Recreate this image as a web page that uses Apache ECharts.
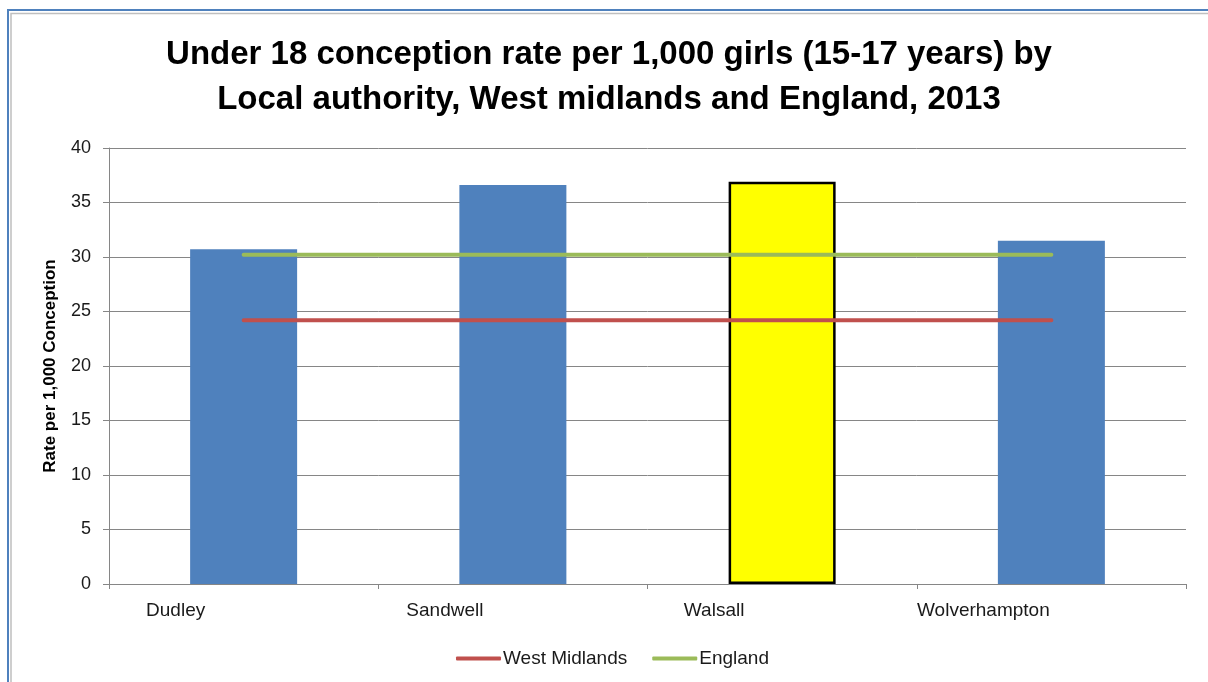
<!DOCTYPE html>
<html>
<head>
<meta charset="utf-8">
<style>
  html, body { margin: 0; padding: 0; background: #fff; }
  #chart { width: 1208px; height: 682px; }
</style>
<script src="https://cdn.jsdelivr.net/npm/echarts@6/dist/echarts.min.js"></script>
</head>
<body>
<div id="chart"></div>
<script>
// data
var categories = ['Dudley', 'Sandwell', 'Walsall', 'Wolverhampton'];
var rates = [30.7, 36.6, 36.9, 31.5];
var highlight = [false, false, true, false];   // Walsall drawn in yellow
var westMidlands = [24.2, 24.2, 24.2, 24.2];
var england = [30.2, 30.2, 30.2, 30.2];
var yTicks = { min: 0, max: 40, interval: 5 };

var chart = echarts.init(document.getElementById('chart'));
var font = 'Liberation Sans, Arial, sans-serif';

var barData = rates.map(function (v, i) {
	if (!highlight[i]) return v;
	return {
		value: v,
		itemStyle: { color: '#FFFF00', borderColor: '#000', borderWidth: 2.5 }
	};
});

var option = {
	animation: false,
	backgroundColor: '#fff',
	title: {
		text: 'Under 18 conception rate per 1,000 girls (15-17 years) by\nLocal authority, West midlands and England, 2013',
		left: 609,
		textAlign: 'center',
		top: 32,
		padding: 0,
		textStyle: {
			fontFamily: font,
			fontSize: 33,
			fontWeight: 'bold',
			color: '#000',
			lineHeight: 45
		}
	},
	legend: {
		data: ['West Midlands', 'England'],
		left: 451,
		top: 644,
		icon: 'roundRect',
		itemWidth: 45,
		itemHeight: 4,
		itemGap: 25,
		textStyle: { fontFamily: font, fontSize: 19, color: '#1a1a1a', padding: [0, 0, 0, -3] }
	},
	grid: { left: 109, right: 22, top: 148, bottom: 98 },
	xAxis: {
		type: 'category',
		data: categories,
		axisLine: { lineStyle: { color: '#868686', width: 1 } },
		axisTick: { show: true, length: 5, lineStyle: { color: '#868686' } },
		axisLabel: {
			fontFamily: font, fontSize: 19, color: '#1a1a1a',
			margin: 17, padding: [0, 136, 0, 0]
		}
	},
	yAxis: {
		type: 'value',
		min: yTicks.min,
		max: yTicks.max,
		interval: yTicks.interval,
		name: 'Rate per 1,000 Conception',
		nameLocation: 'middle',
		nameGap: 50,
		nameTextStyle: { fontFamily: font, fontSize: 17, fontWeight: 'bold', color: '#000' },
		axisLine: { show: true, lineStyle: { color: '#868686', width: 1 } },
		axisTick: { show: true, length: 6, lineStyle: { color: '#868686' } },
		axisLabel: { fontFamily: font, fontSize: 18, color: '#1a1a1a', margin: 18 },
		splitLine: { lineStyle: { color: '#868686', width: 1 } }
	},
	series: [
		{
			name: 'Rate',
			type: 'bar',
			data: barData,
			barWidth: 107,
			itemStyle: { color: '#4F81BD' },
			z: 2
		},
		{
			name: 'West Midlands',
			type: 'line',
			data: westMidlands,
			showSymbol: false,
			symbol: 'none',
			lineStyle: { color: '#C0504D', width: 4, cap: 'round' },
			itemStyle: { color: '#C0504D' },
			z: 3
		},
		{
			name: 'England',
			type: 'line',
			data: england,
			showSymbol: false,
			symbol: 'none',
			lineStyle: { color: '#9BBB59', width: 4, cap: 'round' },
			itemStyle: { color: '#9BBB59' },
			z: 3
		}
	],
	graphic: [
		{ // outer blue frame, runs off the right and bottom edges
			type: 'rect', silent: true, z: 10,
			shape: { x: 8, y: 10, width: 1260, height: 740 },
			style: { fill: null, stroke: '#4F81BD', lineWidth: 2 }
		},
		{
			type: 'rect', silent: true, z: 10,
			shape: { x: 11, y: 13.5, width: 1260, height: 740 },
			style: { fill: null, stroke: '#BFBFBF', lineWidth: 1.5 }
		}
	]
};

chart.setOption(option);
window.onresize = chart.resize;
</script>
</body>
</html>
